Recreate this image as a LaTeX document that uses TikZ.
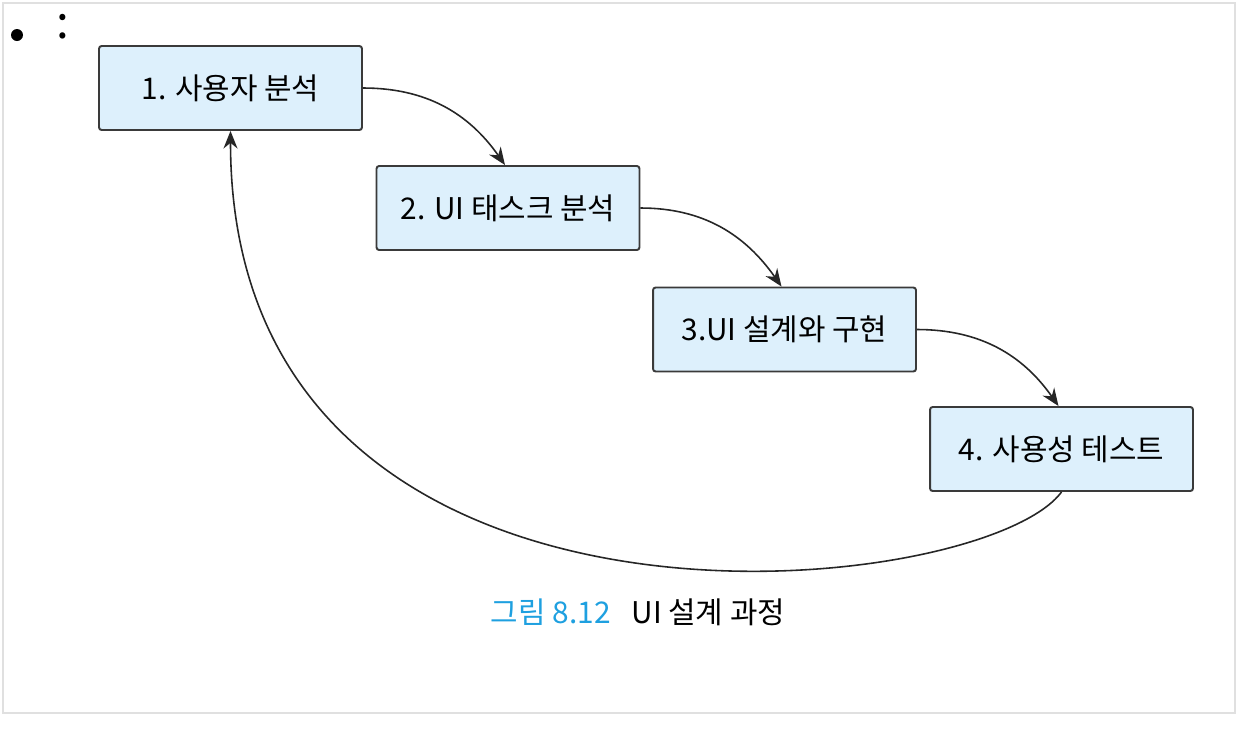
\documentclass[tikz,border=0pt]{standalone}
\usepackage{fontspec}
\setmainfont{Noto Sans CJK KR}
\usetikzlibrary{arrows.meta}

\definecolor{boxfill}{HTML}{DDF0FC}
\definecolor{boxline}{HTML}{3A3A3A}
\definecolor{capblue}{HTML}{1EA0E0}

\tikzset{
	stepbox/.style={draw=boxline, line width=1.1pt, fill=boxfill, rounded corners=1.5pt,
		minimum width=5.26cm, minimum height=1.68cm, inner sep=0pt,
		font=\fontsize{17}{20}\selectfont},
	flow/.style={draw=black!85, line width=0.9pt, -{Stealth[length=10pt,width=8pt]}}
}

\begin{document}
\begin{tikzpicture}[x=0.02cm, y=-0.02cm]
	\useasboundingbox (0,0) rectangle (1247,731);
\fill[white] (0,0) rectangle (1247,731);
\draw[black!12, line width=1pt] (3,3) rectangle (1235,713);

\fill[black] (17,35) circle (6);
\node[inner sep=0pt] (colon) at (63,27) {\fontsize{26}{30}\selectfont :};

\node[stepbox] (b1) at (230.5,88) {1. 사용자 분석};
\node[stepbox] (b2) at (508,208) {2. UI 태스크 분석};
\node[stepbox] (b3) at (784.5,329.5) {3.UI 설계와 구현};
\node[stepbox] (b4) at (1061.5,449) {4. 사용성 테스트};

\draw[flow] (b1.east) to[out=0, in=125] ([xshift=-0.06cm]b2.north);
\draw[flow] (b2.east) to[out=0, in=125] ([xshift=-0.06cm]b3.north);
\draw[flow] (b3.east) to[out=0, in=125] ([xshift=-0.06cm]b4.north);
%\draw[flow] (b4.south) to[out=-115, in=-90] (b1.south);
\draw[flow] (b4.south) .. controls +(-80,109) and +(0,550) .. (b1.south);

\node[font=\fontsize{17}{20}\selectfont] (caption) at (638,612)
	{\textcolor{capblue}{그림 8.12}\hspace{0.7em}UI 설계 과정};









		\end{tikzpicture}
\end{document}
